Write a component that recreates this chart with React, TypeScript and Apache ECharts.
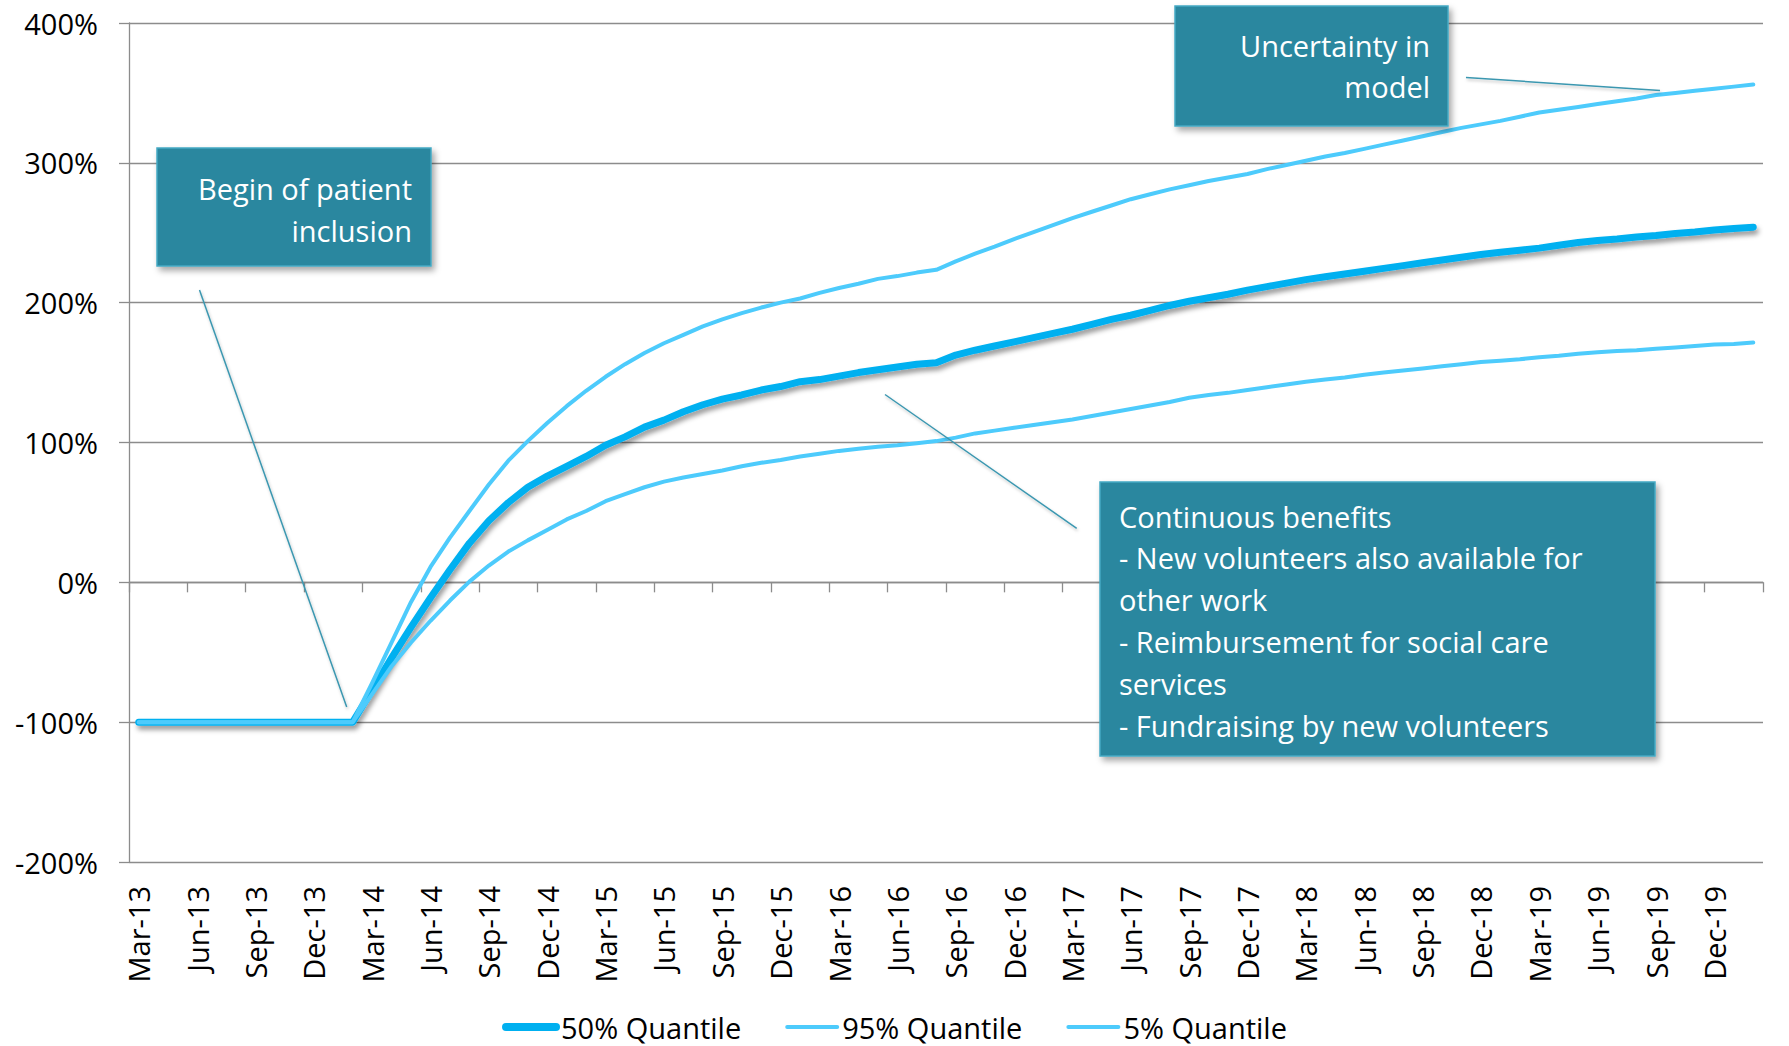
import React, { useEffect, useRef } from "react";
import * as echarts from "echarts";

const categories = [
  "Mar-13","Apr-13","May-13","Jun-13","Jul-13","Aug-13","Sep-13","Oct-13","Nov-13","Dec-13","Jan-14","Feb-14",
  "Mar-14","Apr-14","May-14","Jun-14","Jul-14","Aug-14","Sep-14","Oct-14","Nov-14","Dec-14","Jan-15","Feb-15",
  "Mar-15","Apr-15","May-15","Jun-15","Jul-15","Aug-15","Sep-15","Oct-15","Nov-15","Dec-15","Jan-16","Feb-16",
  "Mar-16","Apr-16","May-16","Jun-16","Jul-16","Aug-16","Sep-16","Oct-16","Nov-16","Dec-16","Jan-17","Feb-17",
  "Mar-17","Apr-17","May-17","Jun-17","Jul-17","Aug-17","Sep-17","Oct-17","Nov-17","Dec-17","Jan-18","Feb-18",
  "Mar-18","Apr-18","May-18","Jun-18","Jul-18","Aug-18","Sep-18","Oct-18","Nov-18","Dec-18","Jan-19","Feb-19",
  "Mar-19","Apr-19","May-19","Jun-19","Jul-19","Aug-19","Sep-19","Oct-19","Nov-19","Dec-19","Jan-20","Feb-20",
];

const q50 = [
  -100,-100,-100,-100,-100,-100,-100,-100,-100,-100,-100,-100,
  -77,-54,-32,-11,9,28,44,57,68,76,83,90,
  98,104,111,116,122,127,131,134,137.5,140,143.5,145,
  147.5,150,152,154,156,157,162.5,166,169,172,175,178,
  181,184.5,188,191,194.5,198,201,203.5,206,209,211.5,214,
  216.5,218.5,220.5,222.5,224.5,226.5,228.5,230.5,232.5,234.5,236,237.5,
  239,241,243,244.5,245.5,247,248,249.5,250.5,252,253,254,
];

const q95 = [
  -100,-100,-100,-100,-100,-100,-100,-100,-100,-100,-100,-100,
  -72,-43,-14,11,32,51,70,87,101,114,126,137,
  147,156,164,171,177,183,188,192.5,196.5,200,203,207,
  210.5,213.5,217,219,221.5,223.5,229.5,235,240,245.5,250.5,255.5,
  260.5,265,269.5,274,277.5,281,284,287,289.5,292,295.5,298.5,
  301.5,304.5,307,310,313,316,319,322,325,327.5,330,333,
  336,338,340,342,344,346,348.5,350,351.5,353,354.5,356,
];

const q05 = [
  -100,-100,-100,-100,-100,-100,-100,-100,-100,-100,-100,-100,
  -80,-60,-43,-27.5,-13,0.5,12,22,30,37.5,45,51,
  58,63,68,72,75,77.5,80,83,85.5,87.5,90,92,
  94,95.5,97,98,99.5,101,103.5,106.5,108.5,110.5,112.5,114.5,
  116.5,119,121.5,124,126.5,129,132,134,135.5,137.5,139.5,141.5,
  143.5,145,146.5,148.5,150,151.5,153,154.5,156,157.5,158.5,159.5,
  161,162,163.5,164.5,165.5,166,167,168,169,170,170.5,171.5,
];

const seriesNames = ["50% Quantile", "95% Quantile", "5% Quantile"];

const FONT = "'Open Sans', 'Noto Sans', sans-serif";
const GRID = "#8c8c8c";
const MEDIAN = "#00b0f0";
const BAND = "#4dcbfc";
const BOX_FILL = "#29879f";
const BOX_STROKE = "#45a9c4";
const LEADER = "#3b97b0";

export default function App() {
  const ref = useRef<HTMLDivElement>(null);

  useEffect(() => {
    document.body.style.margin = "0";
    if (!ref.current) return;
    const chart = echarts.init(ref.current, undefined, { renderer: "svg" });

    const boxShadow = {
      shadowBlur: 6,
      shadowOffsetX: 3,
      shadowOffsetY: 4,
      shadowColor: "rgba(0,0,0,0.35)",
    };
    const leaderStyle = {
      stroke: LEADER,
      lineWidth: 1.5,
      shadowBlur: 3,
      shadowOffsetX: 1,
      shadowOffsetY: 2,
      shadowColor: "rgba(0,0,0,0.25)",
    };
    const textStyle = (text: string, align: string, lh: number) => ({
      text,
      fill: "#ffffff",
      font: `29px ${FONT}`,
      fontFamily: FONT,
      fontSize: 29,
      align,
      verticalAlign: "middle",
      lineHeight: lh,
    });

    const legendItem = (name: string, color: string, width: number) => ({
      name,
      itemStyle: { opacity: 0 },
      lineStyle: { width, color, cap: "round", opacity: 1 },
    });

    chart.setOption({
      animation: false,
      grid: { left: 129, right: 26, top: 23, bottom: 184, containLabel: false },
      legend: {
        data: [
          legendItem(seriesNames[0], MEDIAN, 8),
          legendItem(seriesNames[1], BAND, 4),
          legendItem(seriesNames[2], BAND, 4),
        ],
        left: "center",
        top: 1007,
        itemWidth: 50,
        itemHeight: 8,
        itemGap: 44,
        textStyle: { fontFamily: FONT, fontSize: 29, lineHeight: 30, color: "#000" },
      },
      xAxis: [
        {
          type: "category",
          data: categories,
          boundaryGap: true,
          position: "bottom",
          axisLine: { show: false, onZero: false },
          axisTick: { show: false },
          axisLabel: {
            interval: 2,
            rotate: 90,
            margin: 24,
            fontFamily: FONT,
            fontSize: 29,
            color: "#000",
          },
          splitLine: { show: false },
        },
        {
          type: "category",
          data: categories,
          boundaryGap: true,
          position: "bottom",
          axisLine: { show: true, onZero: true, lineStyle: { color: GRID, width: 1.3 } },
          axisTick: { show: true, interval: 2, length: 10, lineStyle: { color: GRID, width: 1.3 } },
          axisLabel: { show: false },
          splitLine: { show: false },
        },
      ],
      yAxis: {
        type: "value",
        min: -200,
        max: 400,
        interval: 100,
        axisLine: { show: true, onZero: false, lineStyle: { color: GRID, width: 1.3 } },
        axisTick: { show: true, length: 10, lineStyle: { color: GRID, width: 1.3 } },
        axisLabel: {
          formatter: "{value}%",
          margin: 31,
          fontFamily: FONT,
          fontSize: 29,
          color: "#000",
        },
        splitLine: { show: true, lineStyle: { color: GRID, width: 1.3 } },
      },
      series: [
        {
          name: seriesNames[0],
          type: "line",
          xAxisIndex: 0,
          data: q50,
          symbol: "none",
          color: MEDIAN,
          lineStyle: {
            width: 7,
            color: MEDIAN,
            cap: "round",
            join: "round",
            shadowBlur: 5,
            shadowOffsetX: 2,
            shadowOffsetY: 4,
            shadowColor: "rgba(0,0,0,0.4)",
          },
          z: 2,
        },
        {
          name: seriesNames[1],
          type: "line",
          xAxisIndex: 0,
          data: q95,
          symbol: "none",
          color: BAND,
          lineStyle: { width: 4, color: BAND, cap: "round", join: "round" },
          z: 3,
        },
        {
          name: seriesNames[2],
          type: "line",
          xAxisIndex: 0,
          data: q05,
          symbol: "none",
          color: BAND,
          lineStyle: { width: 4, color: BAND, cap: "round", join: "round" },
          z: 3,
        },
      ],
      graphic: [
        { type: "line", z: 100, shape: { x1: 199.5, y1: 290, x2: 346.7, y2: 707 }, style: leaderStyle },
        { type: "line", z: 100, shape: { x1: 1466, y1: 77.5, x2: 1660, y2: 90.5 }, style: leaderStyle },
        { type: "line", z: 100, shape: { x1: 885, y1: 394.5, x2: 1076.7, y2: 528.3 }, style: leaderStyle },
        {
          type: "rect",
          z: 100,
          shape: { x: 157, y: 148, width: 274, height: 118 },
          style: { fill: BOX_FILL, stroke: BOX_STROKE, lineWidth: 1.5, ...boxShadow },
        },
        {
          type: "text",
          z: 101,
          x: 412,
          y: 209,
          style: textStyle("Begin of patient\ninclusion", "right", 42),
        },
        {
          type: "rect",
          z: 100,
          shape: { x: 1175, y: 6, width: 273, height: 120 },
          style: { fill: BOX_FILL, stroke: BOX_STROKE, lineWidth: 1.5, ...boxShadow },
        },
        {
          type: "text",
          z: 101,
          x: 1430,
          y: 66,
          style: textStyle("Uncertainty in\nmodel", "right", 41),
        },
        {
          type: "rect",
          z: 100,
          shape: { x: 1100, y: 482, width: 555, height: 274 },
          style: { fill: BOX_FILL, stroke: BOX_STROKE, lineWidth: 1.5, ...boxShadow },
        },
        {
          type: "text",
          z: 101,
          x: 1119,
          y: 620.5,
          style: textStyle(
            "Continuous benefits\n- New volunteers also available for\nother work\n- Reimbursement for social care\nservices\n- Fundraising by new volunteers",
            "left",
            41.8
          ),
        },
      ],
    });

    return () => {
      chart.dispose();
    };
  }, []);

  return <div ref={ref} style={{ width: 1789, height: 1046 }} />;
}
